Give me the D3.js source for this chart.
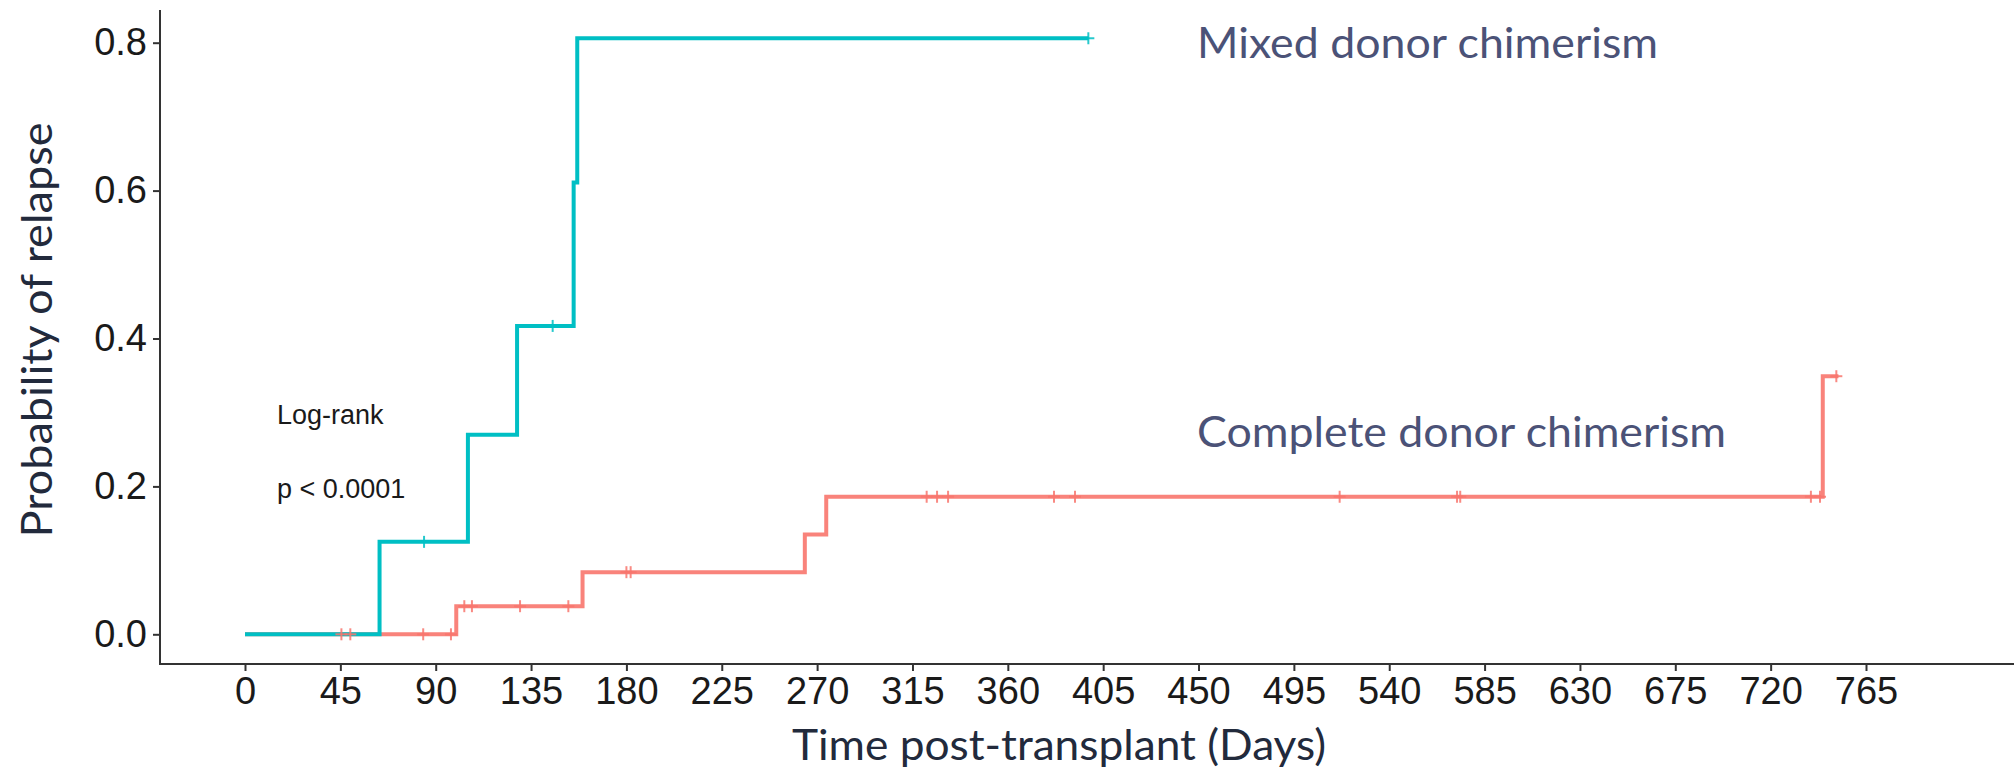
<!DOCTYPE html>
<html><head><meta charset="utf-8">
<script src="https://cdn.jsdelivr.net/npm/d3@7"></script>
<style>html,body{margin:0;padding:0;background:#fff;overflow:hidden}</style>
</head><body>
<svg id="chart" width="2014" height="771"></svg>
<script>
// ---- data ----
const xTicks = [0,45,90,135,180,225,270,315,360,405,450,495,540,585,630,675,720,765];
const yTicks = [0.0,0.2,0.4,0.6,0.8];

const mixedEventDays  = [63.5, 105.2, 128.4, 155.1, 156.8];
const mixedEventProb  = [0.125, 0.270, 0.417, 0.611, 0.806];
const mixedCensorDays = [84.5, 145.2, 398];
const mixedEndDay = 398;

const completeEventDays  = [99.7, 159.3, 264.2, 274.3, 744.6];
const completeEventProb  = [0.038, 0.084, 0.135, 0.186, 0.349];
const completeCensorDays = [45.5, 49.7, 84.1, 97.2, 103.5, 107.1, 129.8, 152.6, 180, 182,
                            321.7, 326.6, 331.8, 381.8, 391.7, 516.6, 572, 573.5, 739, 743.3, 751];
const completeEndDay = 752;

const seriesLabels = ["Mixed donor chimerism", "Complete donor chimerism"];

// ---- layout ----
const svg = d3.select("#chart");
const x = d3.scaleLinear().domain([0,765]).range([245,1866]);
const y = d3.scaleLinear().domain([0,0.8]).range([634.3,42.7]);
const axisLeftX = 160, axisBottomY = 664;

function stepValue(days, probs, t){
  let v = 0;
  for (let i=0;i<days.length;i++) if (days[i] <= t) v = probs[i];
  return v;
}
function stepPoints(days, probs, end){
  const pts = [[0,0]];
  days.forEach((d,i)=>pts.push([d,probs[i]]));
  pts.push([end, probs[probs.length-1]]);
  return pts;
}
const line = d3.line().x(d=>x(d[0])).y(d=>y(d[1])).curve(d3.curveStepAfter);

const series = [
  {name:"complete", color:"#F8766D", op:0.9, days:completeEventDays, probs:completeEventProb, censor:completeCensorDays, end:completeEndDay},
  {name:"mixed", color:"#00BFC4", op:1, days:mixedEventDays, probs:mixedEventProb, censor:mixedCensorDays, end:mixedEndDay}
];

// axes lines
svg.append("line").attr("x1",axisLeftX).attr("x2",axisLeftX).attr("y1",10).attr("y2",axisBottomY+1)
  .attr("stroke","#333").attr("stroke-width",2);
svg.append("line").attr("x1",axisLeftX).attr("x2",2014).attr("y1",axisBottomY).attr("y2",axisBottomY)
  .attr("stroke","#333").attr("stroke-width",2);

// x axis
const gx = svg.append("g").attr("transform",`translate(0,${axisBottomY})`)
  .call(d3.axisBottom(x).tickValues(xTicks).tickSize(7).tickPadding(6).tickFormat(d3.format("d")));
gx.select(".domain").remove();
gx.selectAll(".tick line").attr("stroke","#333").attr("stroke-width",2);
gx.selectAll(".tick text").attr("font-family","'Liberation Sans', Arial, sans-serif")
  .attr("font-size",38).attr("fill","#1a1a1a");

// y axis
const gy = svg.append("g").attr("transform",`translate(${axisLeftX},0)`)
  .call(d3.axisLeft(y).tickValues(yTicks).tickSize(7).tickPadding(6).tickFormat(d3.format(".1f")));
gy.select(".domain").remove();
gy.selectAll(".tick line").attr("stroke","#333").attr("stroke-width",2);
gy.selectAll(".tick text").attr("font-family","'Liberation Sans', Arial, sans-serif")
  .attr("font-size",38).attr("fill","#1a1a1a");

// curves
series.forEach(s=>{
  svg.append("path").datum(stepPoints(s.days,s.probs,s.end)).attr("d",line)
    .attr("fill","none").attr("stroke",s.color).attr("stroke-width",4)
    .attr("stroke-opacity",s.op).attr("stroke-linejoin","miter");
});
// censor marks
const cs = 6;
series.forEach(s=>{
  const g = svg.append("g");
  s.censor.forEach(t=>{
    const cx = x(t), cy = y(stepValue(s.days,s.probs,t));
    g.append("line").attr("x1",cx).attr("x2",cx).attr("y1",cy-cs).attr("y2",cy+cs)
      .attr("stroke",s.color).attr("stroke-width",2).attr("stroke-opacity",0.85);
    g.append("line").attr("x1",cx-cs).attr("x2",cx+cs).attr("y1",cy).attr("y2",cy)
      .attr("stroke",s.color).attr("stroke-width",2).attr("stroke-opacity",0.85);
  });
});

// annotations
const annFont = "Arial, 'Liberation Sans', sans-serif";
svg.append("text").attr("x",277).attr("y",424).attr("font-family",annFont).attr("font-size",27)
  .attr("fill","#1a1a1a").text("Log-rank");
svg.append("text").attr("x",277).attr("y",498).attr("font-family",annFont).attr("font-size",27)
  .attr("fill","#1a1a1a").text("p < 0.0001");

const labFont = "Lato, 'Open Sans', sans-serif";
svg.append("text").attr("x",1197).attr("y",58).attr("font-family",labFont).attr("font-size",43)
  .attr("fill","#4b5277").attr("textLength",461).attr("lengthAdjust","spacingAndGlyphs").text(seriesLabels[0]);
svg.append("text").attr("x",1197).attr("y",447).attr("font-family",labFont).attr("font-size",43)
  .attr("fill","#4b5277").attr("textLength",529).attr("lengthAdjust","spacingAndGlyphs").text(seriesLabels[1]);

// axis titles
svg.append("text").attr("x",1059).attr("y",760).attr("text-anchor","middle").attr("font-family",labFont)
  .attr("font-size",43).attr("fill","#222a3c").attr("textLength",534).attr("lengthAdjust","spacingAndGlyphs")
  .text("Time post-transplant (Days)");
svg.append("text").attr("transform","translate(52,330) rotate(-90)").attr("text-anchor","middle")
  .attr("font-family",labFont).attr("font-size",43).attr("fill","#222a3c")
  .attr("textLength",415).attr("lengthAdjust","spacingAndGlyphs").text("Probability of relapse");
</script>
</body></html>
